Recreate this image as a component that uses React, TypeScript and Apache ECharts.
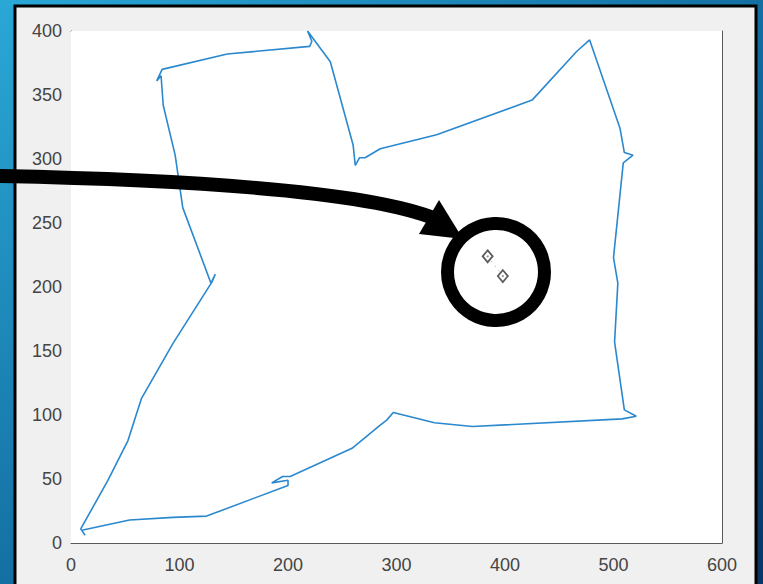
import React, { useEffect, useRef } from "react";
import * as echarts from "echarts";

// Trajectory (data units)
const pathX = [13, 9, 34, 52.5, 65, 94, 130, 133, 129, 103, 96, 85, 83, 79, 84, 144, 220, 222, 218, 239, 260, 262, 266, 271, 285, 337, 425, 466, 478, 506, 510, 518, 509, 500, 504, 501, 510, 521, 508, 370, 335, 297, 291, 285, 259, 202, 195, 185, 200, 200, 125, 94, 54, 10];
const pathY = [6, 11, 49, 80, 113, 156, 204, 210, 203, 262, 303, 342, 365, 361, 370, 382, 388, 392, 400, 376, 311, 295, 301, 301, 308, 319, 346, 384, 393, 324, 305, 303, 297, 223, 203, 157, 104, 99, 97, 91, 94, 102, 96, 92, 74, 52, 52, 47, 49, 45, 21, 20, 18, 10];

// Diamond markers
const markerX = [384, 398];
const markerY = [224, 208.5];

const xTicks = [0, 100, 200, 300, 400, 500, 600];
const yTicks = [0, 50, 100, 150, 200, 250, 300, 350, 400];

const W = 763;
const H = 584;

export default function App() {
  const ref = useRef<HTMLDivElement>(null);
  useEffect(() => {
    if (!ref.current) return;
    const chart = echarts.init(ref.current, undefined, { renderer: "svg" });
    const pathData = pathX.map((x, i) => [x, pathY[i]]);
    const markerData = markerX.map((x, i) => [x, markerY[i]]);
    const axisColor = "#5a5a5a";
    const labelStyle = {
      color: "#444444",
      fontSize: 18,
      fontFamily: "Liberation Sans, Arial, sans-serif",
    };
    const xBase = {
      type: "value" as const,
      min: xTicks[0],
      max: xTicks[xTicks.length - 1],
      interval: xTicks[1] - xTicks[0],
      axisLine: { show: true, onZero: false, lineStyle: { color: axisColor, width: 1 } },
      axisTick: { show: true, inside: true, length: 5, lineStyle: { color: axisColor } },
      splitLine: { show: false },
    };
    const yBase = {
      type: "value" as const,
      min: yTicks[0],
      max: yTicks[yTicks.length - 1],
      interval: yTicks[1] - yTicks[0],
      axisLine: { show: true, onZero: false, lineStyle: { color: axisColor, width: 1 } },
      axisTick: { show: true, inside: true, length: 5, lineStyle: { color: axisColor } },
      splitLine: { show: false },
    };
    chart.setOption({
      animation: false,
      backgroundColor: {
        type: "linear",
        x: 0,
        y: 0,
        x2: 1,
        y2: 1,
        colorStops: [
          { offset: 0, color: "#2aa8d6" },
          { offset: 0.5, color: "#1470a3" },
          { offset: 1, color: "#0a3563" },
        ],
      },
      grid: {
        left: 71,
        top: 31,
        right: W - 722,
        bottom: H - 543,
        show: true,
        backgroundColor: "#ffffff",
        borderWidth: 0,
        z: 1,
      },
      xAxis: [
        { ...xBase, position: "bottom", axisLabel: { ...labelStyle, margin: 13 } },
        { ...xBase, position: "top", axisLabel: { show: false } },
      ],
      yAxis: [
        { ...yBase, position: "left", axisLabel: { ...labelStyle, margin: 9 } },
        { ...yBase, position: "right", axisLabel: { show: false } },
      ],
      graphic: [
        {
          type: "rect",
          z: -10,
          silent: true,
          shape: { x: 15, y: 6, width: 741, height: 620 },
          style: { fill: "#f0f0f0", stroke: "#000000", lineWidth: 3 },
        },
        {
          type: "bezierCurve",
          z: 100,
          silent: true,
          shape: { x1: -5, y1: 176, cpx1: 200, cpy1: 180, cpx2: 370, cpy2: 192, x2: 436, y2: 219 },
          style: { stroke: "#000000", lineWidth: 14, fill: "none" },
        },
        {
          type: "polygon",
          z: 100,
          silent: true,
          shape: { points: [[439, 200], [419, 234], [463, 239]] },
          style: { fill: "#000000" },
        },
        {
          type: "circle",
          z: 100,
          silent: true,
          shape: { cx: 496, cy: 272, r: 48.5 },
          style: { stroke: "#000000", lineWidth: 13, fill: "none" },
        },
      ],
      series: [
        {
          type: "line",
          data: pathData,
          showSymbol: false,
          symbol: "none",
          lineStyle: { color: "#2a88cf", width: 1.6 },
          z: 3,
        },
        {
          type: "line",
          data: markerData,
          showSymbol: false,
          symbol: "none",
          lineStyle: { color: "#999999", width: 1, type: [1, 5] },
          z: 3,
        },
        {
          type: "scatter",
          data: markerData,
          symbol: "diamond",
          symbolSize: [10, 12],
          itemStyle: { color: "rgba(255,255,255,0)", borderColor: "#333333", borderWidth: 1.8 },
          z: 4,
        },
        {
          type: "scatter",
          data: markerData,
          symbol: "circle",
          symbolSize: 2,
          itemStyle: { color: "#777777" },
          z: 4,
        },
      ],
    });
    return () => chart.dispose();
  }, []);
  return (
    <div
      ref={ref}
      style={{ position: "fixed", left: 0, top: 0, width: W, height: H }}
    />
  );
}
